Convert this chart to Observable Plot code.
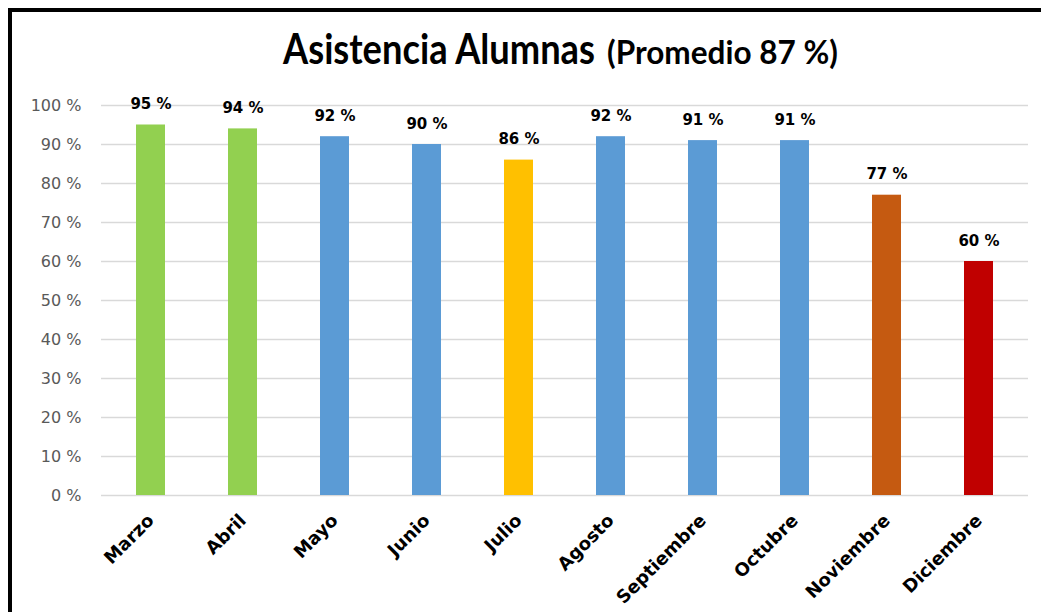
<!DOCTYPE html>
<html>
<head>
<meta charset="utf-8">
<script src="https://cdn.jsdelivr.net/npm/d3@7"></script>
<script src="https://cdn.jsdelivr.net/npm/@observablehq/plot@0.6"></script>
<style>
  html, body { margin: 0; padding: 0; background: #fff; overflow: hidden; }
  #wrap { position: relative; width: 1041px; height: 612px; overflow: hidden; background: #fff; }
  #chart { position: absolute; left: 0; top: 0; }
  #frame { position: absolute; left: 8px; top: 8px; width: 1100px; height: 700px; border: 4px solid #000; box-sizing: border-box; pointer-events: none; }
  #title { position: absolute; left: 0; top: 0; }
</style>
</head>
<body>
<div id="wrap">
  <div id="chart"></div>
  <svg id="title" width="1041" height="90">
    <text id="t1" x="0" y="0" font-family="Lato, sans-serif" font-weight="bold" font-size="42" fill="#000">Asistencia Alumnas</text>
    <text id="t2" x="0" y="0" font-family="Lato, sans-serif" font-weight="bold" font-size="32" fill="#000">(Promedio 87 %)</text>
  </svg>
  <div id="frame"></div>
</div>
<script>
const months = ["Marzo", "Abril", "Mayo", "Junio", "Julio", "Agosto", "Septiembre", "Octubre", "Noviembre", "Diciembre"];
const values = [95, 94, 92, 90, 86, 92, 91, 91, 77, 60];
const colors = ["#92d050", "#92d050", "#5b9bd5", "#5b9bd5", "#ffc000", "#5b9bd5", "#5b9bd5", "#5b9bd5", "#c55a11", "#c00000"];
const yTicks = [0, 10, 20, 30, 40, 50, 60, 70, 80, 90, 100];

const data = months.map((m, i) => ({month: m, value: values[i], color: colors[i]}));

const chart = Plot.plot({
  width: 1041,
  height: 612,
  marginTop: 105,
  marginBottom: 117,
  marginLeft: 101,
  marginRight: 13,
  style: {fontFamily: "'DejaVu Sans', sans-serif", background: "transparent"},
  x: {domain: months, paddingInner: 0.69, paddingOuter: 0.345, label: null},
  y: {domain: [0, 100], label: null},
  marks: [
    Plot.ruleY(yTicks, {stroke: "#d9d9d9", strokeWidth: 1.5}),
    Plot.barY(data, {x: "month", y: "value", fill: "color"}),
    Plot.text(data, {x: "month", y: "value", text: d => d.value + " %", dy: -16, lineAnchor: "bottom", fontWeight: "bold", fontSize: 15, fill: "#000"}),
    Plot.axisY(yTicks, {tickSize: 0, tickPadding: 20, tickFormat: d => d + " %", fill: "#595959", fontSize: 16}),
    Plot.axisX({tickRotate: -45, tickSize: 0, tickPadding: 22, fontWeight: "bold", fontSize: 18, fill: "#000"})
  ]
});
document.getElementById("chart").appendChild(chart);

// fit title pieces horizontally (condensed look of the original)
function fit(id, x, y, w) {
  const el = document.getElementById(id);
  const natural = el.getComputedTextLength();
  const k = w / natural;
  el.setAttribute("transform", `translate(${x},${y}) scale(${k},1)`);
}
fit("t1", 283, 64, 312);
fit("t2", 607, 64, 231);
</script>
</body>
</html>
